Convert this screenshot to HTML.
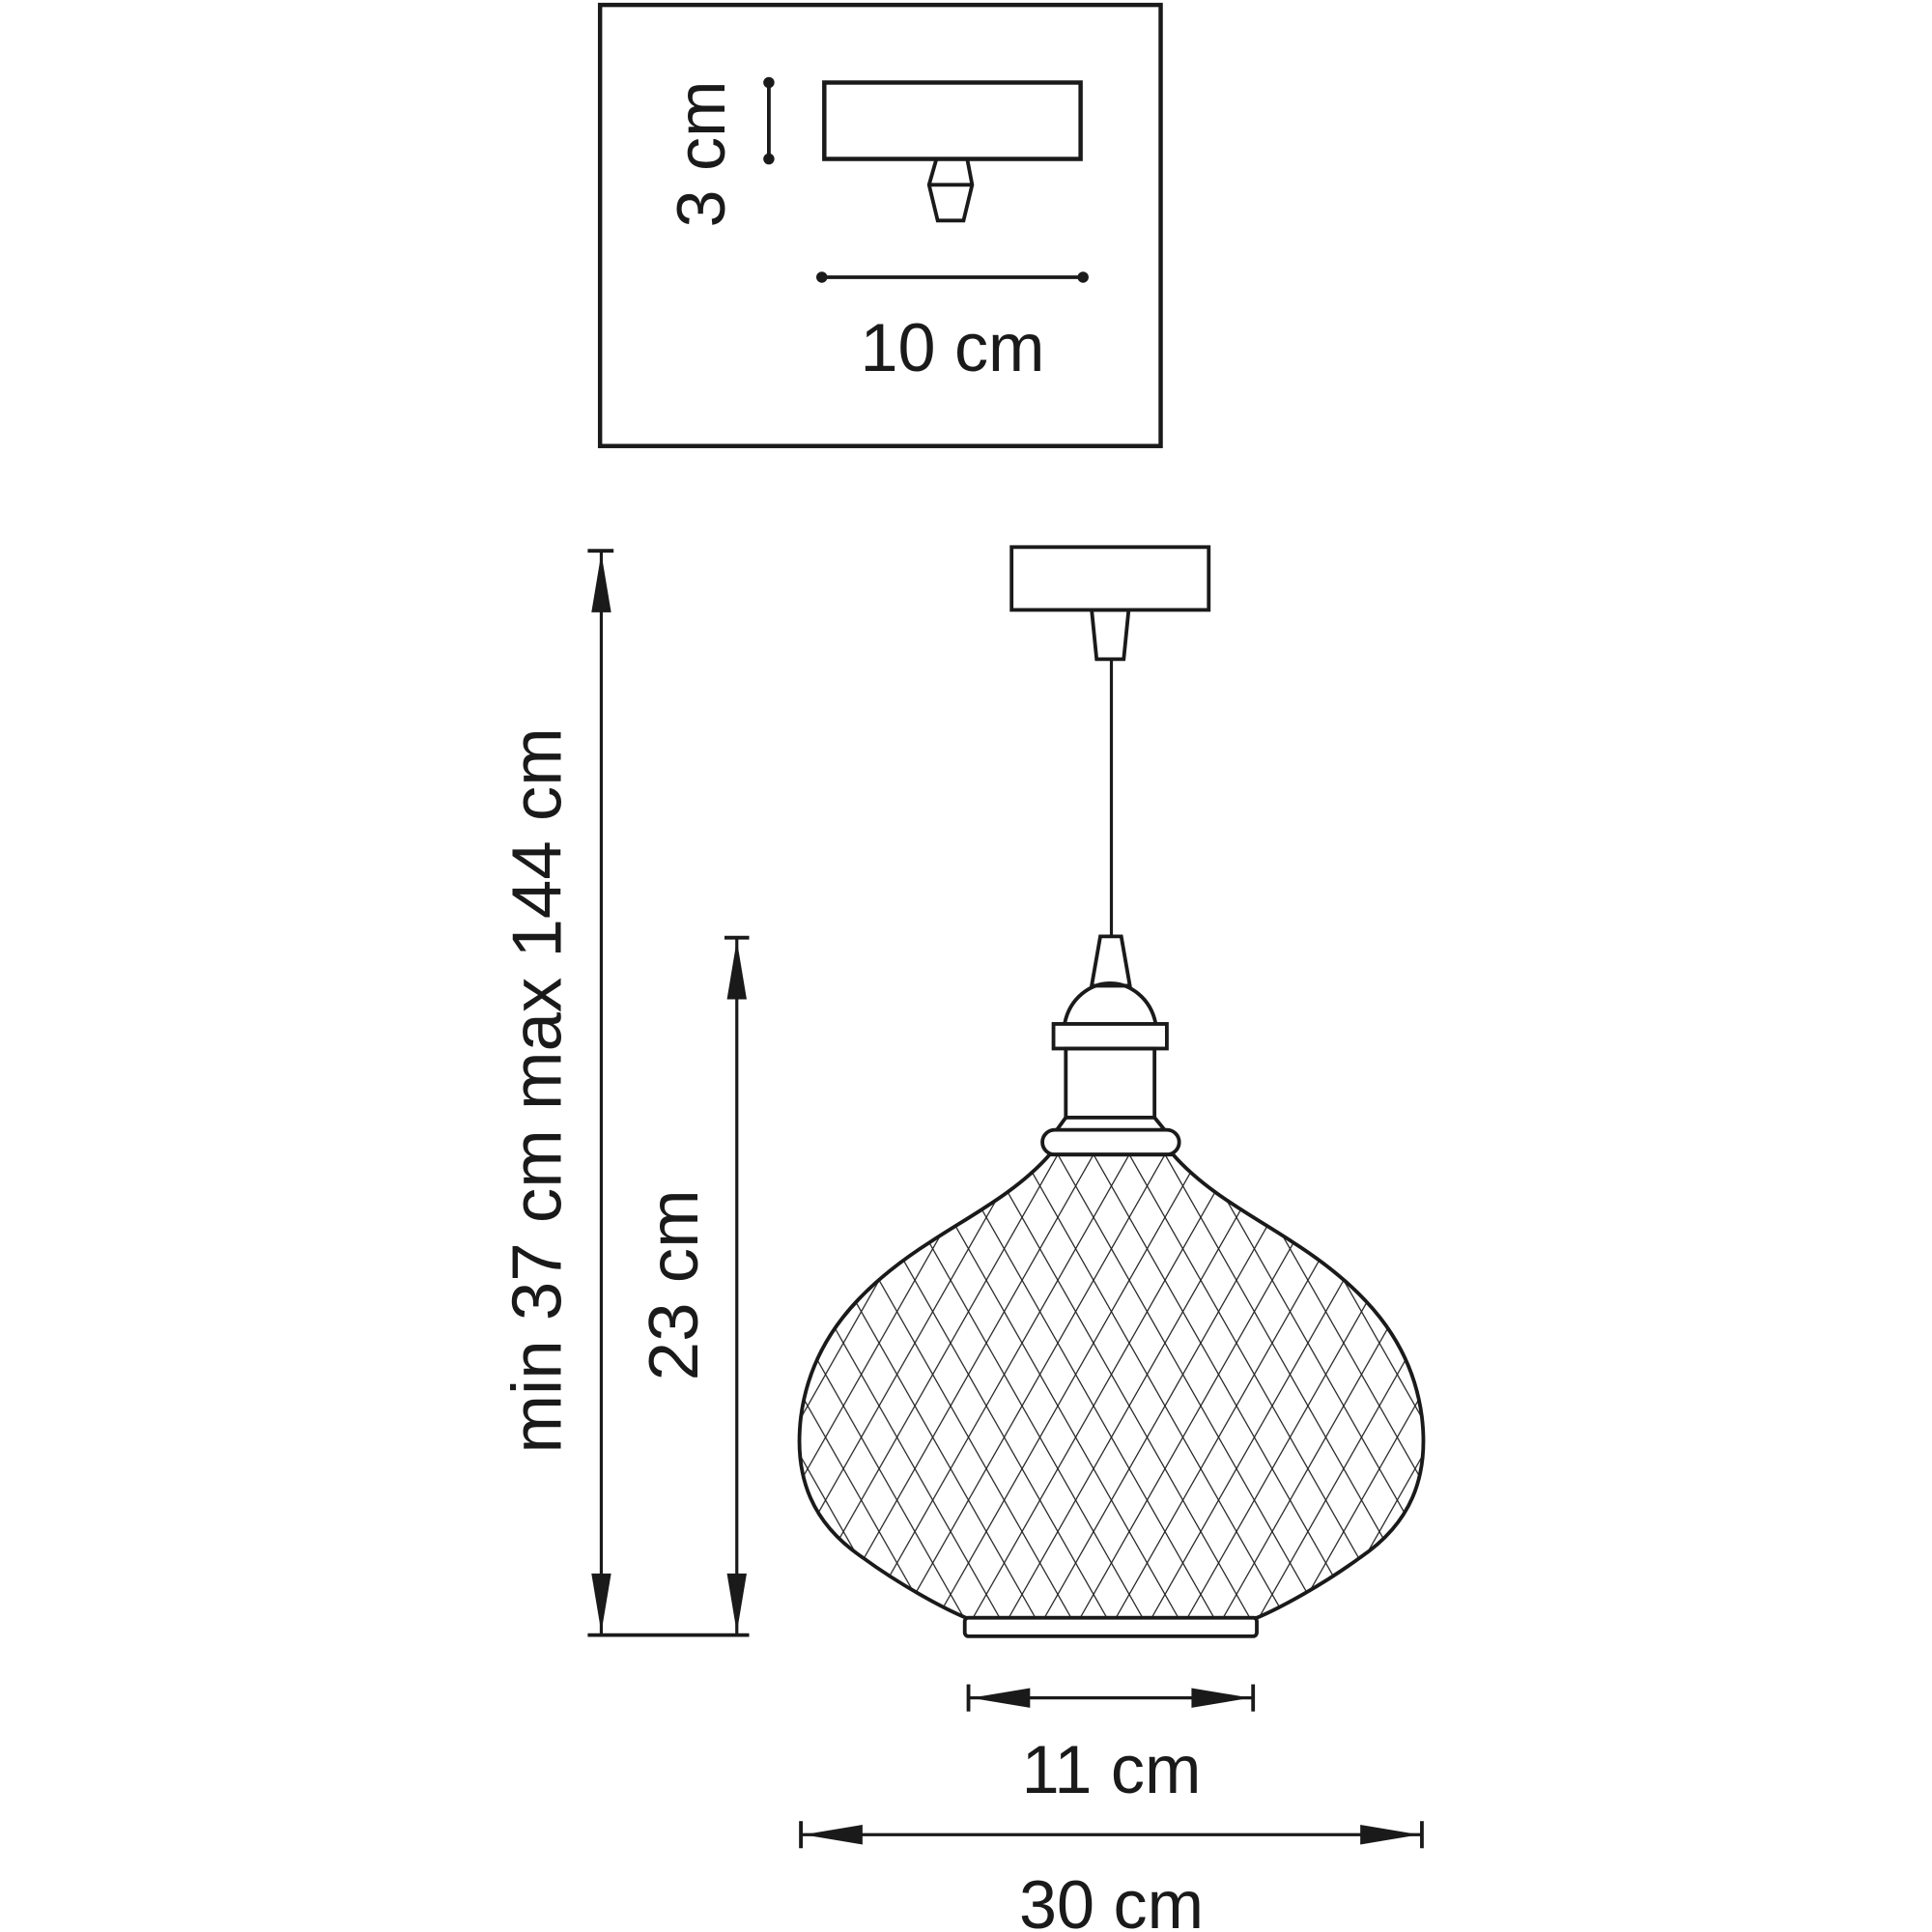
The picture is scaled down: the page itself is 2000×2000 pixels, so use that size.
<!DOCTYPE html>
<html><head><meta charset="utf-8"><style>html,body{margin:0;padding:0;background:#fff}svg{display:block}</style></head>
<body>
<svg width="2000" height="2000" viewBox="0 0 1568 1568" xmlns="http://www.w3.org/2000/svg" font-family="Liberation Sans, sans-serif" fill="none" stroke="#1a1a1a">
<defs>
<pattern id="mesh" width="29" height="51" patternUnits="userSpaceOnUse" x="887.5" y="937">
<path d="M0,0 L29,51 M29,0 L0,51" stroke="#222" stroke-width="1"/>
</pattern>
<clipPath id="shade"><path id="shp" d="M852,937 C825,968 785,988 755,1008 C697,1045 658,1088 650,1150 C644,1200 660,1237 700,1264 C730,1286 765,1305 784,1313 L1020,1313 C1039,1305 1074,1286 1104,1264 C1144,1237 1160,1200 1154,1150 C1146,1088 1107,1045 1049,1008 C1019,988 979,968 952,937 Z"/></clipPath>
</defs>

<!-- inset box -->
<rect x="487" y="4" width="455" height="358" stroke-width="3.5"/>
<rect x="669" y="67" width="208" height="62" stroke-width="3.5"/>
<path d="M760,129 L785,129 L789,150 L782,179 L761,179 L754,150 Z M754,150 L789,150" stroke-width="3"/>
<line x1="624" y1="67" x2="624" y2="129" stroke-width="3"/>
<circle cx="624" cy="67" r="4" fill="#1a1a1a"/><circle cx="624" cy="129" r="4" fill="#1a1a1a"/>
<line x1="667" y1="225" x2="879" y2="225" stroke-width="3"/>
<circle cx="667" cy="225" r="4" fill="#1a1a1a"/><circle cx="879" cy="225" r="4" fill="#1a1a1a"/>
<text x="773" y="301" font-size="55" text-anchor="middle" fill="#1a1a1a" stroke="none">10 cm</text>
<text transform="translate(588,125) rotate(-90)" font-size="55" text-anchor="middle" fill="#1a1a1a" stroke="none">3 cm</text>

<!-- canopy + cord -->
<rect x="821" y="444" width="160" height="51" stroke-width="3"/>
<path d="M886,495 L916,495 L912,535 L890,535 Z" stroke-width="3"/>
<line x1="902" y1="535" x2="902" y2="760" stroke-width="2.5"/>
<path d="M893,760 L910,760 L917,800 L886,800 Z" stroke-width="3"/>
<path d="M864,831 C868,810 885,798 901,798 C917,798 934,810 938,831" stroke-width="3"/>
<rect x="855" y="831" width="92" height="20" stroke-width="3"/>
<rect x="865" y="851" width="72" height="56" stroke-width="3"/>
<path d="M865,907 L857,918 M937,907 L946,918" stroke-width="3"/>
<rect x="846" y="917" width="111" height="20" rx="10" stroke-width="3" fill="#fff"/>

<!-- shade -->
<rect x="630" y="930" width="550" height="400" fill="url(#mesh)" stroke="none" clip-path="url(#shade)"/>
<use href="#shp" stroke-width="3"/>
<rect x="783" y="1313" width="237" height="15" rx="3" stroke-width="3" fill="#fff"/>

<!-- big vertical dim -->
<line x1="477" y1="447" x2="498" y2="447" stroke-width="3"/>
<line x1="477" y1="1327" x2="608" y2="1327" stroke-width="3"/>
<line x1="488" y1="447" x2="488" y2="1327" stroke-width="2.5"/>
<path d="M488,449 L496,497 L480,497 Z M488,1325 L496,1277 L480,1277 Z" fill="#1a1a1a" stroke="none"/>
<text transform="translate(455,885) rotate(-90)" font-size="57" text-anchor="middle" fill="#1a1a1a" stroke="none">min 37 cm max 144 cm</text>

<!-- 23 cm -->
<line x1="588" y1="761" x2="608" y2="761" stroke-width="3"/>
<line x1="598" y1="761" x2="598" y2="1327" stroke-width="2.5"/>
<path d="M598,763 L606,811 L590,811 Z M598,1325 L606,1277 L590,1277 Z" fill="#1a1a1a" stroke="none"/>
<text transform="translate(566,1043) rotate(-90)" font-size="57" text-anchor="middle" fill="#1a1a1a" stroke="none">23 cm</text>

<!-- 11 cm -->
<line x1="786" y1="1367" x2="786" y2="1389" stroke-width="3"/>
<line x1="1017" y1="1367" x2="1017" y2="1389" stroke-width="3"/>
<line x1="786" y1="1378" x2="1017" y2="1378" stroke-width="2.5"/>
<path d="M788,1378 L836,1370 L836,1386 Z M1015,1378 L967,1370 L967,1386 Z" fill="#1a1a1a" stroke="none"/>
<text x="902" y="1455" font-size="55" text-anchor="middle" fill="#1a1a1a" stroke="none">11 cm</text>

<!-- 30 cm -->
<line x1="650" y1="1478" x2="650" y2="1500" stroke-width="3"/>
<line x1="1154" y1="1478" x2="1154" y2="1500" stroke-width="3"/>
<line x1="650" y1="1489" x2="1154" y2="1489" stroke-width="2.5"/>
<path d="M652,1489 L700,1481 L700,1497 Z M1152,1489 L1104,1481 L1104,1497 Z" fill="#1a1a1a" stroke="none"/>
<text x="902" y="1565" font-size="55" text-anchor="middle" fill="#1a1a1a" stroke="none">30 cm</text>
</svg>
</body></html>
